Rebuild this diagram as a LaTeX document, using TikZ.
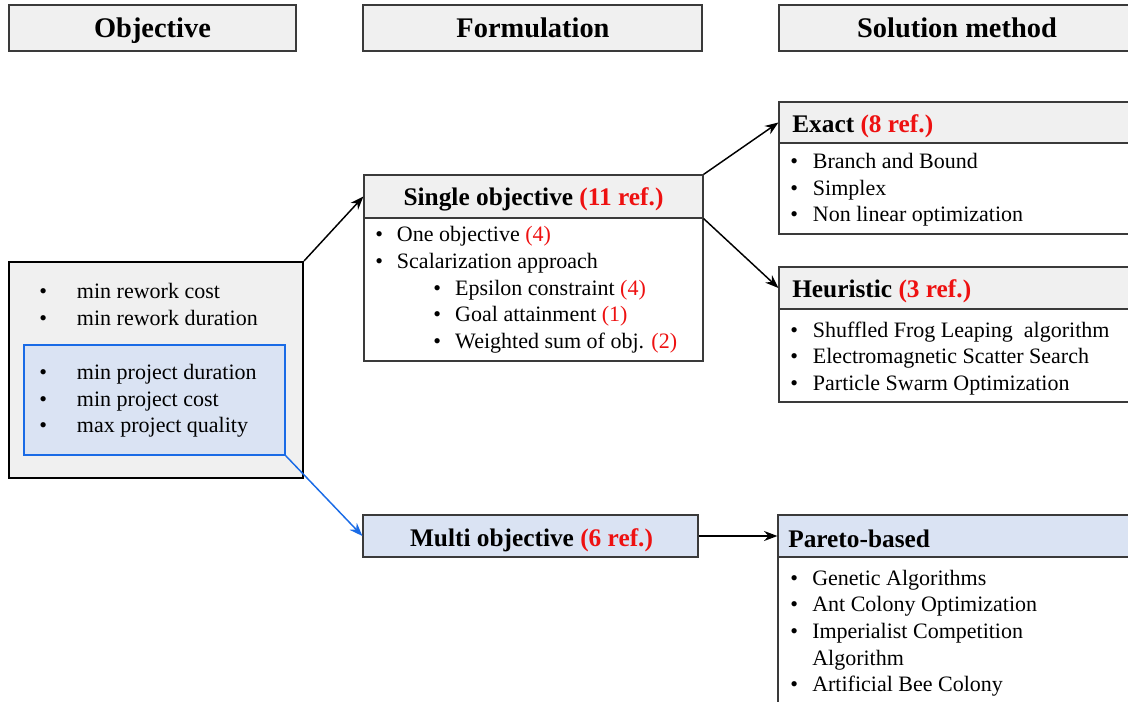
\documentclass[tikz,border=0pt]{standalone}
\usepackage{fontspec}
\setmainfont{Liberation Serif}
\usetikzlibrary{arrows.meta,fit}
\definecolor{hdrgray}{HTML}{F0F0F0}
\definecolor{lblue}{HTML}{DAE3F3}
\definecolor{iblue}{HTML}{1A6BE6}
\definecolor{refred}{HTML}{EE1111}
\definecolor{edge}{HTML}{3A3A3A}
\newcommand\bt[2]{\makebox[#1][l]{\textbullet}#2}
\newcommand\rr[1]{\textcolor{refred}{#1}}
\begin{document}
\begin{tikzpicture}[x=0.75pt,y=-0.75pt,
  box/.style={draw=edge, line width=0.9pt, inner sep=0pt},
  hdr/.style={box, fill=hdrgray},
  bluebox/.style={box, fill=lblue},
  toptxt/.style={font=\fontsize{21.3pt}{24pt}\selectfont\bfseries, anchor=base, inner sep=0pt},
  subtxt/.style={font=\fontsize{19pt}{22pt}\selectfont\bfseries, inner sep=0pt},
  bodytxt/.style={font=\fontsize{16.5pt}{20pt}\selectfont, anchor=base west, inner sep=0pt},
  arr/.style={line width=1.1pt, -{Stealth[length=10pt,width=7.5pt]}},
]
\useasboundingbox (0,0) rectangle (1128,702);
\clip (0,0) rectangle (1128,702);

% column headers
\node[hdr, fit={(9,5)(296,51)}] (hObj) {};
\node[hdr, fit={(363,5)(702,51)}] (hForm) {};
\node[hdr, fit={(779,5)(1140,51)}] (hSol) {};
\node[toptxt] (tObj) at (152.5,37.5) {Objective};
\node[toptxt] (tForm) at (533,37.5) {Formulation};
\node[toptxt] (tSol) at (957,37.5) {Solution method};

% objective box
\node[draw=black, line width=1.6pt, fill=hdrgray, inner sep=0pt, fit={(9,262)(303,478)}] (objbox) {};
\node[draw=iblue, line width=1.2pt, fill=lblue, inner sep=0pt, fit={(24,345)(285,455)}] (inner) {};
\node[bodytxt] (l1) at (39,299) {\begin{tabular}[t]{@{}l@{}}
\bt{28.3pt}{min rework cost}\\
\bt{28.3pt}{min rework duration}\end{tabular}};
\node[bodytxt] (l2) at (39,379.5) {\begin{tabular}[t]{@{}l@{}}
\bt{28.3pt}{min project duration}\\
\bt{28.3pt}{min project cost}\\
\bt{28.3pt}{max project quality}\end{tabular}};

% single objective
\node[box, fill=white, fit={(364,218)(703,361)}] (sbody) {};
\node[hdr, fit={(364,175)(703,218)}] (shead) {};
\node[subtxt, anchor=base] (stxt) at (533.5,205.5) {Single objective \rr{(11 ref.)}};
\node[bodytxt] (sl) at (375,242) {\begin{tabular}[t]{@{}l@{}}
\bt{16.3pt}{One objective \rr{(4)}}\\
\bt{16.3pt}{Scalarization approach}\\
\hspace*{43.5pt}\bt{16.5pt}{Epsilon constraint \rr{(4)}}\\
\hspace*{43.5pt}\bt{16.5pt}{Goal attainment \rr{(1)}}\\
\hspace*{43.5pt}\bt{16.5pt}{Weighted sum of obj. \rr{(2)}}\end{tabular}};

% multi objective
\node[bluebox, fit={(363,515)(698,557)}] (mhead) {};
\node[subtxt, anchor=base] (mtxt) at (531.5,546) {Multi objective \rr{(6 ref.)}};

% exact
\node[box, fill=white, fit={(779,143)(1140,234)}] (exbody) {};
\node[hdr, fit={(779,102)(1140,143)}] (exhead) {};
\node[subtxt, anchor=base west] (extxt) at (792,132.5) {Exact \rr{(8 ref.)}};
\node[bodytxt] (exl) at (790,168.5) {\begin{tabular}[t]{@{}l@{}}
\bt{17pt}{Branch and Bound}\\
\bt{17pt}{Simplex}\\
\bt{17pt}{Non linear optimization}\end{tabular}};

% heuristic
\node[box, fill=white, fit={(779,309)(1140,402)}] (hbody) {};
\node[hdr, fit={(779,267)(1140,309)}] (hhead) {};
\node[subtxt, anchor=base west] (htxt) at (792,297) {Heuristic \rr{(3 ref.)}};
\node[bodytxt] (hl) at (790,337) {\begin{tabular}[t]{@{}l@{}}
\bt{17pt}{Shuffled Frog Leaping\ \ algorithm}\\
\bt{17pt}{Electromagnetic Scatter Search}\\
\bt{17pt}{Particle Swarm Optimization}\end{tabular}};

% pareto
\node[box, fill=white, fit={(778,557)(1140,720)}] (pbody) {};
\node[bluebox, fit={(778,515)(1140,557)}] (phead) {};
\node[subtxt, anchor=base west] (ptxt) at (788,547) {Pareto-based};
\node[bodytxt] (pl) at (790,585) {\begin{tabular}[t]{@{}l@{}}
\bt{16.5pt}{Genetic Algorithms}\\
\bt{16.5pt}{Ant Colony Optimization}\\
\bt{16.5pt}{Imperialist Competition}\\
\hspace*{16.5pt}Algorithm\\
\bt{16.5pt}{Artificial Bee Colony}\end{tabular}};

% connectors
\draw[arr] (objbox.north east) -- (shead.west);
\draw[arr] (shead.north east) -- (exhead.west);
\draw[arr] (shead.south east) -- (hhead.west);
\draw[arr, draw=iblue] (inner.south east) -- (mhead.west);
\draw[arr] (mhead.east) -- (phead.west);
\end{tikzpicture}
\end{document}
